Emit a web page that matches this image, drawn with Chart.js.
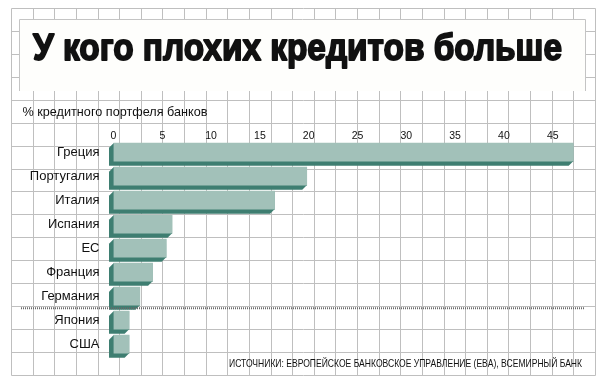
<!DOCTYPE html>
<html><head><meta charset="utf-8">
<script src="https://cdn.jsdelivr.net/npm/chart.js@4/dist/chart.umd.min.js"></script>
<style>html,body{margin:0;padding:0;background:#fff}canvas{display:block}</style>
</head><body>
<canvas id="c" width="604" height="383"></canvas>
<script>
// ---- data ----
const categories = ['Греция','Португалия','Италия','Испания','ЕС','Франция','Германия','Япония','США'];
const nplShare = [47.1, 19.8, 16.5, 6.0, 5.4, 4.0, 2.7, 1.6, 1.6];
const tickValues = [0, 5, 10, 15, 20, 25, 30, 35, 40, 45];
const titleText = 'У кого плохих кредитов больше';
const subtitleText = '% кредитного портфеля банков';
const sourceText = 'ИСТОЧНИКИ: ЕВРОПЕЙСКОЕ БАНКОВСКОЕ УПРАВЛЕНИЕ (EBA), ВСЕМИРНЫЙ БАНК';
const separatorAfter = 'Германия';

// ---- styles ----
const FONT = '"Liberation Sans", Arial, sans-serif';
const FACE = '#a2c1b9';
const DARK = '#3e7e71';
const INK = '#111';
const GRID = '#bfbfbf';
const DEPTH = 4.5;

const paper = {
  id: 'paper',
  beforeDraw(chart) {
    const ctx = chart.ctx;
    ctx.save();
    ctx.fillStyle = '#fff';
    ctx.fillRect(0, 0, chart.width, chart.height);
    // decorative squared paper
    const gx0 = 11, gx1 = 595, gy0 = 8.3, gy1 = 374.6, nx = 27, ny = 16;
    ctx.strokeStyle = GRID; ctx.lineWidth = 1;
    ctx.beginPath();
    for (let i = 0; i <= nx; i++) {
      const x = Math.round(gx0 + (gx1 - gx0) * i / nx) + 0.5;
      ctx.moveTo(x, Math.round(gy0) + 0.5); ctx.lineTo(x, Math.round(gy1) + 0.5);
    }
    for (let j = 0; j <= ny; j++) {
      const y = Math.round(gy0 + (gy1 - gy0) * j / ny) + 0.5;
      ctx.moveTo(Math.round(gx0) + 0.5, y); ctx.lineTo(Math.round(gx1) + 0.5, y);
    }
    ctx.stroke();
    // title box
    ctx.fillStyle = '#fefefc';
    ctx.fillRect(19.5, 19.5, 566, 71.5);
    ctx.strokeStyle = '#c4c4c4';
    ctx.beginPath();
    ctx.moveTo(19.5, 91); ctx.lineTo(19.5, 19.5); ctx.lineTo(585.5, 19.5); ctx.lineTo(585.5, 91);
    ctx.stroke();
    // title
    ctx.fillStyle = '#111';
    ctx.strokeStyle = '#111';
    ctx.lineWidth = 1.8;
    ctx.lineJoin = 'round';
    ctx.textAlign = 'left';
    ctx.textBaseline = 'alphabetic';
    ctx.font = 'bold 37px ' + FONT;
    ctx.fillText(titleText, 33, 60, 529);
    ctx.strokeText(titleText, 33, 60, 529);
    // subtitle
    ctx.fillStyle = INK;
    ctx.font = '13px ' + FONT;
    ctx.fillText(subtitleText, 22.5, 115.7, 185);
    ctx.restore();
  },
  beforeDatasetsDraw(chart) {
    const ctx = chart.ctx;
    const meta = chart.getDatasetMeta(0);
    ctx.save();
    ctx.fillStyle = DARK;
    meta.data.forEach(b => {
      const p = b.getProps(['x', 'y', 'base', 'height'], true);
      const top = p.y - p.height / 2, bot = p.y + p.height / 2, l = p.base, r = p.x;
      ctx.beginPath();
      ctx.moveTo(l, top); ctx.lineTo(r, top); ctx.lineTo(r, bot);
      ctx.lineTo(r - DEPTH, bot + DEPTH); ctx.lineTo(l - DEPTH, bot + DEPTH);
      ctx.lineTo(l - DEPTH, top + DEPTH); ctx.closePath();
      ctx.fill();
    });
    ctx.restore();
  },
  afterDraw(chart) {
    const ctx = chart.ctx;
    const ys = chart.scales.y;
    const idx = categories.indexOf(separatorAfter);
    const yy = (ys.getPixelForValue(idx) + ys.getPixelForValue(idx + 1)) / 2;
    ctx.save();
    ctx.strokeStyle = '#6a6a6a';
    ctx.lineWidth = 2;
    ctx.setLineDash([1, 1]);
    ctx.beginPath();
    ctx.moveTo(21, yy); ctx.lineTo(585, yy);
    ctx.stroke();
    ctx.setLineDash([]);
    ctx.fillStyle = INK;
    ctx.font = '11px ' + FONT;
    ctx.textAlign = 'left';
    ctx.textBaseline = 'alphabetic';
    ctx.fillText(sourceText, 229, 367.3, 353);
    ctx.restore();
  }
};

new Chart(document.getElementById('c'), {
  type: 'bar',
  data: {
    labels: categories,
    datasets: [{
      data: nplShare,
      backgroundColor: FACE,
      borderWidth: 0,
      barThickness: 18
    }]
  },
  options: {
    indexAxis: 'y',
    responsive: false,
    animation: false,
    devicePixelRatio: 1,
    layout: { padding: { top: 120.2, bottom: 26.8, left: 0, right: 22 } },
    plugins: { legend: { display: false }, tooltip: { enabled: false }, title: { display: false } },
    scales: {
      x: {
        position: 'top',
        min: 0, max: 48,
        afterBuildTicks(s) { s.ticks = tickValues.map(v => ({ value: v })); },
        afterFit(s) { s.height = 20; },
        grid: { display: false, drawTicks: false },
        border: { display: false },
        ticks: { color: INK, padding: -2, font: { family: FONT, size: 10.5 } }
      },
      y: {
        afterFit(s) { s.width = 113.5; },
        grid: { display: false, drawTicks: false },
        border: { display: false },
        ticks: { color: INK, padding: 14, font: { family: FONT, size: 13 } }
      }
    }
  },
  plugins: [paper]
});
</script>
</body></html>
